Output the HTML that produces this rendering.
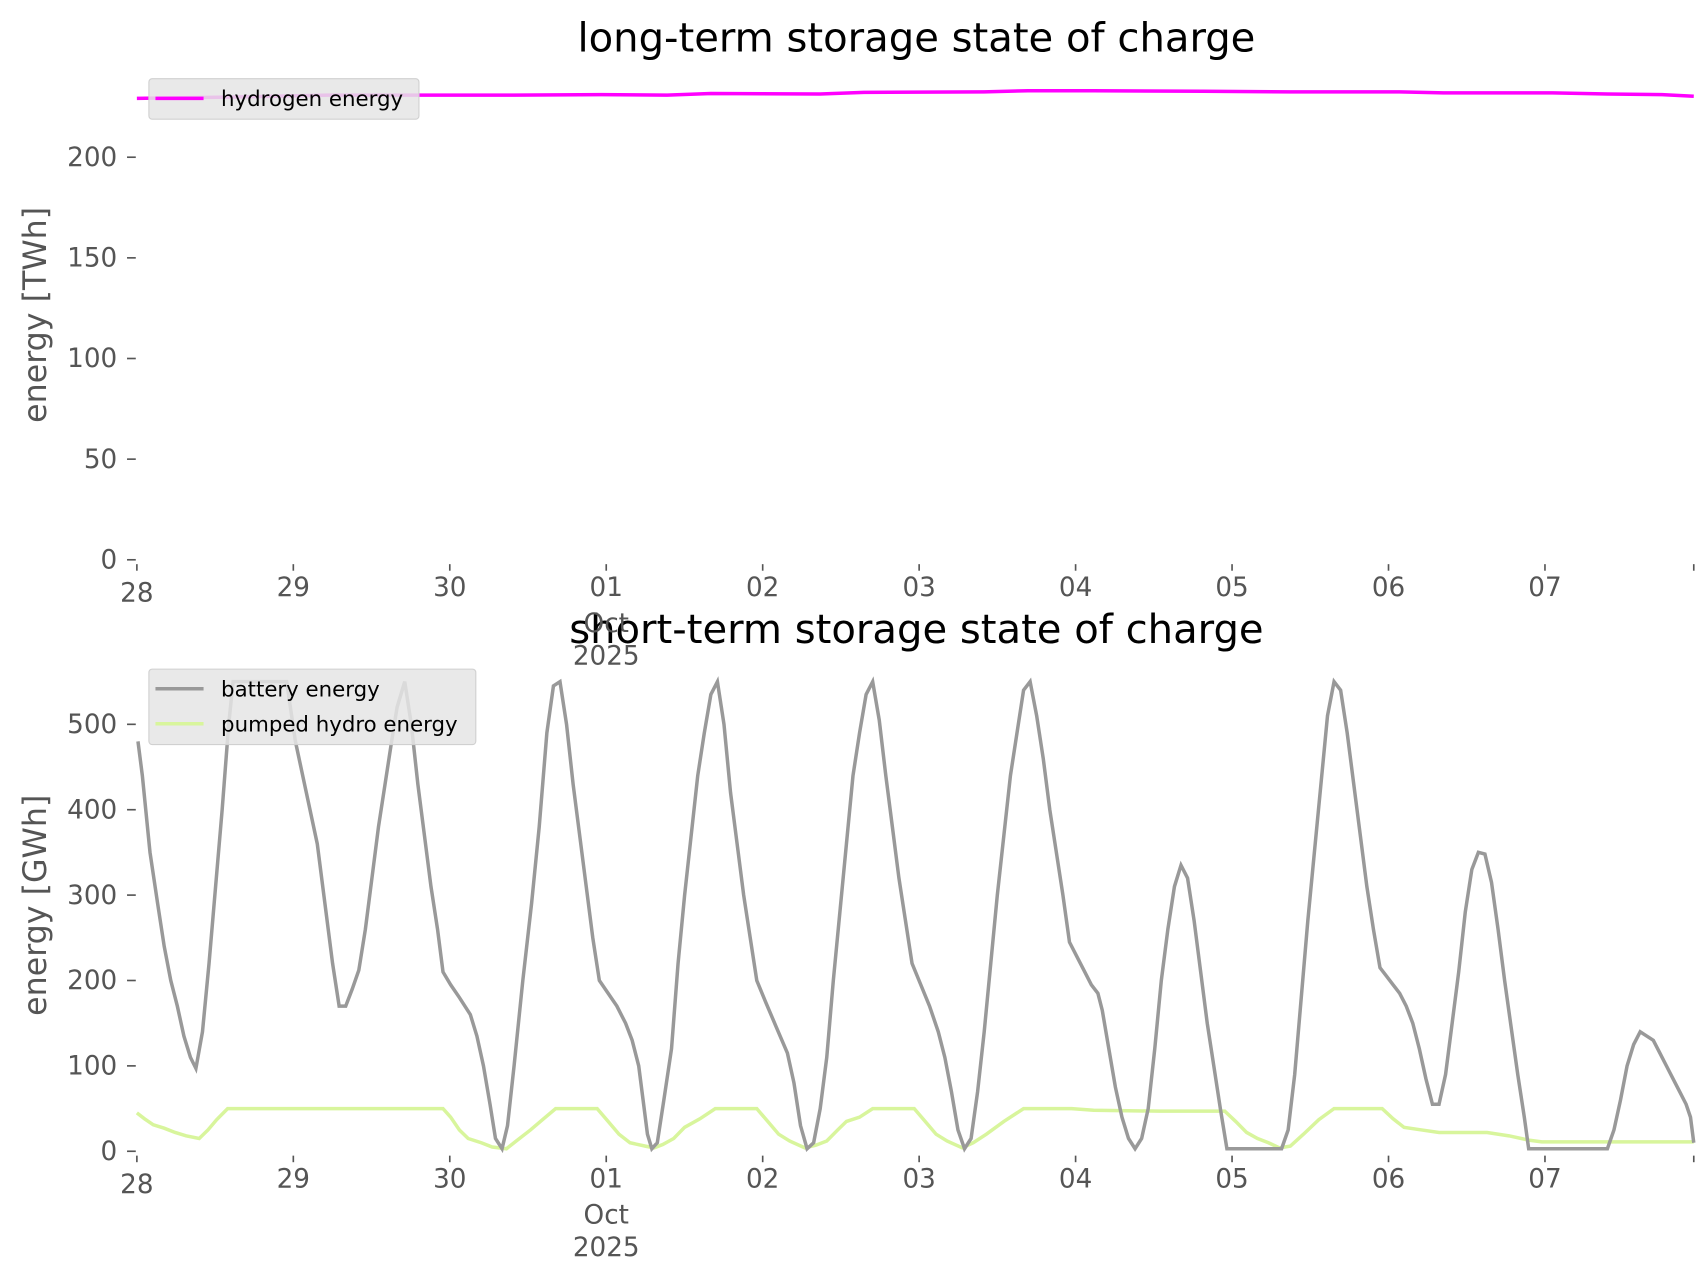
<!DOCTYPE html>
<html><head><meta charset="utf-8"><style>
html,body{margin:0;padding:0;background:#fff;}
svg{display:block;}
text{font-family:"DejaVu Sans","Liberation Sans",sans-serif;}
.tk{fill:#555;font-size:24px;}
</style></head><body>
<svg id="s" width="1706" height="1277" viewBox="0 0 1560 1168" xmlns="http://www.w3.org/2000/svg">
<rect width="1560" height="1168" fill="#fff"/>
<text x="838" y="47" font-size="36.7" text-anchor="middle" fill="#000">long-term storage state of charge</text>
<text x="838" y="588" font-size="36.7" text-anchor="middle" fill="#000">short-term storage state of charge</text>
<text transform="translate(42,288) rotate(-90)" font-size="29" text-anchor="middle" fill="#555">energy [TWh]</text>
<text transform="translate(42,828) rotate(-90)" font-size="29" text-anchor="middle" fill="#555">energy [GWh]</text>
<g id="g"></g>
<polyline id="h2" fill="none" stroke="#ff00ff" stroke-width="3.2" points=""/>
<polyline id="ph" fill="none" stroke="#d8f59c" stroke-width="3.2" points=""/>
<polyline id="bat" fill="none" stroke="#999" stroke-width="3.2" points=""/>
<rect x="136" y="72" width="247" height="37" fill="#e5e5e5" fill-opacity="0.85" stroke="#d0d0d0" rx="3"/>
<line x1="142" y1="90" x2="186" y2="90" stroke="#ff00ff" stroke-width="3.2"/>
<text x="202" y="97" font-size="19.5" fill="#000">hydrogen energy</text>
<rect x="136" y="612" width="299" height="69" fill="#e5e5e5" fill-opacity="0.85" stroke="#d0d0d0" rx="3"/>
<line x1="142" y1="630" x2="186" y2="630" stroke="#999" stroke-width="3.2"/>
<text x="202" y="637" font-size="19.5" fill="#000">battery energy</text>
<line x1="142" y1="662" x2="186" y2="662" stroke="#d8f59c" stroke-width="3.2"/>
<text x="202" y="669" font-size="19.5" fill="#000">pumped hydro energy</text>
</svg>
<script>
var NS="http://www.w3.org/2000/svg",g=document.getElementById("g");
function el(t,a,txt){var e=document.createElementNS(NS,t);for(var k in a)e.setAttribute(k,a[k]);if(txt!=null)e.textContent=txt;g.appendChild(e);return e;}
var x0=125,dx=143.1;
[0,50,100,150,200].forEach(function(v){var y=512-v*1.841;el("line",{x1:116,x2:124,y1:y,y2:y,stroke:"#555","stroke-width":1.5});el("text",{x:107,y:y+8,"text-anchor":"end","class":"tk"},v);});
[0,100,200,300,400,500].forEach(function(v){var y=1053-v*0.781;el("line",{x1:116,x2:124,y1:y,y2:y,stroke:"#555","stroke-width":1.5});el("text",{x:107,y:y+8,"text-anchor":"end","class":"tk"},v);});
var labs=["28","29","30","01","02","03","04","05","06","07",""];
[512,1053].forEach(function(p){
 for(var i=0;i<=10;i++){var x=(i==10)?1549:x0+i*dx;el("line",{x1:x,x2:x,y1:p+4,y2:p+10,stroke:"#555","stroke-width":1.5});
  if(labs[i])el("text",{x:x,y:p+33+(i==0?5:0),"text-anchor":"middle","class":"tk"},labs[i]);}
 el("text",{x:x0+3*dx,y:p+66,"text-anchor":"middle","class":"tk"},"Oct");
 el("text",{x:x0+3*dx,y:p+96,"text-anchor":"middle","class":"tk"},"2025");
});
function pts(a,f){var s=[];for(var i=0;i<a.length;i+=2)s.push(a[i]+","+f(a[i+1]));return s.join(" ");}
var bat=[126,480,130,440,137,350,144,290,150,240,156,200,162,170,168,135,174,110,179,97,185,140,191,220,197,310,203,400,209,500,213,550,262,550,270,480,280,420,290,360,298,280,304,220,310,170,316,170,322,190,328,212,334,260,340,320,346,380,352,430,358,480,363,520,370,550,376,500,382,430,388,370,394,310,400,260,405,210,412,195,420,180,430,160,436,135,442,100,448,55,453,15,459,3,464,30,470,100,478,200,486,290,493,380,500,490,506,545,512,550,518,500,524,430,530,370,536,310,542,250,548,200,556,185,564,170,572,150,578,130,584,100,588,60,592,20,596,3,601,10,607,60,614,120,620,220,626,300,632,370,638,440,644,490,650,535,656,550,662,500,668,420,674,360,680,300,686,250,692,200,700,175,710,145,720,115,726,80,732,30,738,3,744,10,750,50,756,110,762,200,768,280,774,360,780,440,786,490,792,535,798,550,804,505,810,440,816,380,822,320,828,270,834,220,842,195,850,170,858,140,864,110,870,70,876,25,882,3,888,15,894,70,900,140,906,220,912,300,918,370,924,440,930,490,936,540,942,550,948,510,954,460,960,400,966,350,972,300,978,245,986,225,992,210,998,195,1004,185,1008,165,1014,120,1020,75,1026,40,1032,15,1038,3,1044,15,1050,50,1056,120,1062,200,1068,260,1074,310,1080,335,1086,320,1092,270,1098,210,1104,150,1110,100,1116,50,1122,3,1172,3,1178,25,1184,90,1190,180,1196,270,1202,350,1208,430,1214,510,1220,550,1226,540,1232,490,1238,430,1244,370,1250,310,1256,260,1262,215,1268,205,1274,195,1280,185,1286,170,1292,150,1298,120,1304,85,1310,55,1316,55,1322,90,1328,150,1334,210,1340,280,1346,330,1352,350,1358,348,1364,315,1370,260,1376,200,1382,145,1388,90,1394,40,1398,3,1470,3,1476,25,1482,60,1488,100,1494,125,1500,140,1506,135,1512,130,1518,115,1524,100,1530,85,1536,70,1542,55,1546,40,1549,10];
var ph=[125,45,132,38,140,31,150,27,160,22,170,18,182,15,190,25,198,37,208,50,405,50,412,40,420,25,428,15,440,10,450,5,463,3,472,12,485,25,496,37,508,50,546,50,556,35,566,20,576,10,590,6,598,4,606,8,616,15,626,28,640,38,654,50,692,50,702,35,712,20,722,12,736,4,746,7,756,12,766,25,774,35,786,40,798,50,836,50,846,35,856,20,866,12,880,4,890,10,902,20,918,35,936,50,980,50,1000,48,1060,47,1120,47,1130,35,1140,22,1150,15,1160,10,1170,4,1180,6,1192,20,1206,37,1220,50,1264,50,1274,38,1284,28,1300,25,1316,22,1360,22,1380,18,1398,13,1410,11,1549,11];
var h2=[125,90,200,89,300,87,400,87,470,87,550,86.5,610,87,650,85.5,750,86,790,84.5,900,84,940,83,1000,83,1100,83.5,1180,84,1280,84,1320,85,1420,85,1470,86,1520,86.5,1549,88];
var fy=function(v){return (1053-v*0.781).toFixed(1);};
document.getElementById("bat").setAttribute("points",pts(bat,fy));
document.getElementById("ph").setAttribute("points",pts(ph,fy));
document.getElementById("h2").setAttribute("points",pts(h2,function(v){return v;}));
</script>
</body></html>
